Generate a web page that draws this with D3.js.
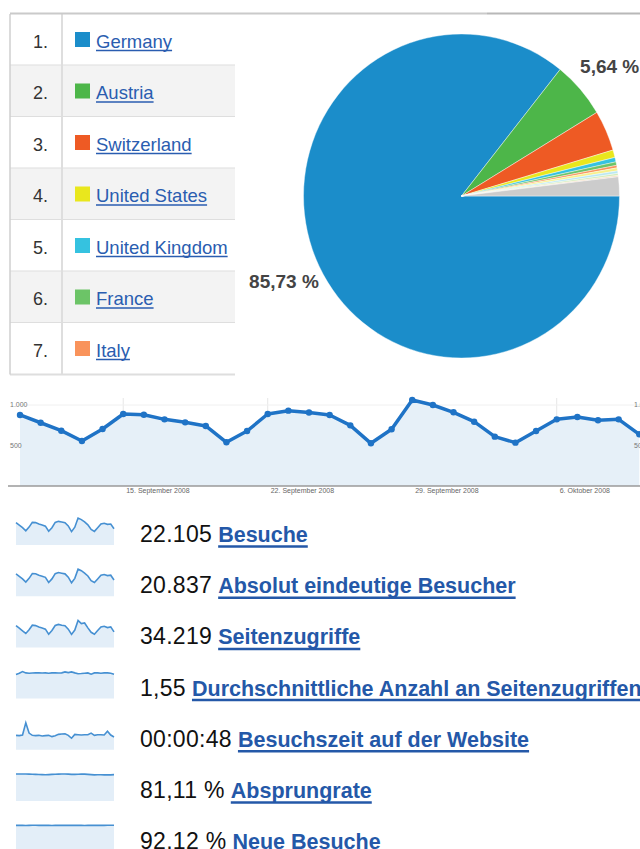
<!DOCTYPE html>
<html><head><meta charset="utf-8">
<script src="https://cdn.jsdelivr.net/npm/d3@7"></script>
<style>body{margin:0;background:#fff;overflow:hidden;} svg{display:block;font-family:"Liberation Sans",Arial,sans-serif;}</style>
</head><body><svg id="c" width="640" height="849"></svg>
<script>
// ---------- DATA ----------
const countries = ["Germany","Austria","Switzerland","United States","United Kingdom","France","Italy"];
const countryColors = ["#1b8dca","#4db649","#ee5a24","#e9e71d","#35c2e0","#6cc467","#f9935b"];
const pieShares = [85.73,5.64,4.05,0.75,0.45,0.35,0.25,0.30,0.25,0.20,0.13,1.90];
const pieColors = ["#1b8dca","#4db649","#ee5a24","#e9e71d","#35c2e0","#6cc467","#f9935b","#f7f08a","#b9e8f2","#d3ecb8","#f6d3b5","#cccccc"];
const pieLabels = ["85,73 %","5,64 %"];

const days = ["2008-09-10","2008-09-11","2008-09-12","2008-09-13","2008-09-14","2008-09-15","2008-09-16","2008-09-17","2008-09-18","2008-09-19","2008-09-20","2008-09-21","2008-09-22","2008-09-23","2008-09-24","2008-09-25","2008-09-26","2008-09-27","2008-09-28","2008-09-29","2008-09-30","2008-10-01","2008-10-02","2008-10-03","2008-10-04","2008-10-05","2008-10-06","2008-10-07","2008-10-08","2008-10-09","2008-10-10"];
const visits = [877,781,683,556,704,889,880,823,786,741,540,679,889,930,907,877,749,527,700,1062,1000,910,794,609,535,679,823,852,811,823,638];
const xTickDays = ["2008-09-15","2008-09-22","2008-09-29","2008-10-06"];
const xTickLabels = ["15. September 2008","22. September 2008","29. September 2008","6. Oktober 2008"];
const yTicks = [500,1000];
const yTickLabels = ["500","1.000"];

const metricValues = ["22.105","20.837","34.219","1,55","00:00:48","81,11 %","92,12 %"];
const metricNames = ["Besuche","Absolut eindeutige Besucher","Seitenzugriffe","Durchschnittliche Anzahl an Seitenzugriffen","Besuchszeit auf der Website","Absprungrate","Neue Besuche"];
const sparkVisits = visits;
const sparkUnique = [826,737,641,525,662,840,829,775,742,700,508,641,836,878,853,828,706,497,661,1000,944,857,749,573,506,640,777,803,764,777,602];
const sparkPageviews = [1370,1210,1040,880,1110,1400,1370,1280,1220,1150,830,1070,1380,1450,1390,1360,1150,820,1090,1700,1500,1540,1230,950,830,1060,1280,1330,1250,1290,980];
const sparkPagesPerVisit = [1.50,1.58,1.68,1.60,1.58,1.59,1.60,1.60,1.59,1.60,1.58,1.60,1.60,1.59,1.60,1.66,1.62,1.66,1.60,1.55,1.56,1.58,1.60,1.52,1.60,1.60,1.58,1.60,1.60,1.58,1.52];
const sparkTimeOnSite = [45,44,46,84,52,45,44,45,43,44,45,41,44,48,49,50,45,36,48,47,46,47,47,52,45,47,47,46,58,46,40];
const sparkBounce = [82.5,82.5,82.6,82.4,82.3,82.0,81.5,81.0,80.6,80.4,80.8,81.4,82.0,82.3,82.4,82.6,82.2,81.6,81.4,82.0,82.6,82.2,81.4,80.6,80.0,80.4,80.2,80.0,80.4,80.0,80.6];
const sparkNew = [92.0,92.0,92.0,91.8,92.0,92.4,92.2,92.0,92.0,92.4,92.0,91.8,92.0,92.0,92.0,92.2,91.9,92.0,92.0,92.2,92.0,91.8,92.0,92.0,92.0,92.0,92.2,92.0,92.6,92.4,92.6];
const sparkSeries = [sparkVisits,sparkUnique,sparkPageviews,sparkPagesPerVisit,sparkTimeOnSite,sparkBounce,sparkNew];

// ---------- DRAW ----------
const svg = d3.select("#c");
const parse = d3.timeParse("%Y-%m-%d");

// Table
const rowTop = 14, rowH = 51.5, tLeft = 10, tRight = 235;
const tbl = svg.append("g");
countries.forEach((c,i)=>{
  const y0 = rowTop + i*rowH;
  tbl.append("rect").attr("x",tLeft).attr("y",y0).attr("width",tRight-tLeft).attr("height",rowH)
    .attr("fill", i%2 ? "#f3f3f3" : "#ffffff");
  tbl.append("line").attr("x1",tLeft).attr("x2",tRight).attr("y1",y0+rowH).attr("y2",y0+rowH)
    .attr("stroke","#dedede").attr("stroke-width",2);
  const base = y0 + 33.5;
  tbl.append("text").attr("x",48).attr("y",base).attr("text-anchor","end")
    .attr("font-size",18).attr("fill","#333").text((i+1)+".");
  tbl.append("rect").attr("x",75).attr("y",y0+18).attr("width",15).attr("height",15).attr("fill",countryColors[i]);
  const t = tbl.append("text").attr("x",96).attr("y",base).attr("font-size",18.5).attr("fill","#2a5db0").text(c);
  const w = t.node().getComputedTextLength();
  tbl.append("line").attr("x1",96).attr("x2",96+w).attr("y1",base+3).attr("y2",base+3)
    .attr("stroke","#2a5db0").attr("stroke-width",1.4);
});
tbl.append("line").attr("x1",tLeft).attr("x2",tLeft).attr("y1",rowTop).attr("y2",rowTop+7*rowH).attr("stroke","#cfcfcf").attr("stroke-width",1.5);
tbl.append("line").attr("x1",62).attr("x2",62).attr("y1",rowTop).attr("y2",rowTop+7*rowH).attr("stroke","#dedede").attr("stroke-width",2);
svg.append("line").attr("x1",tLeft).attr("x2",487).attr("y1",13.5).attr("y2",13.5).attr("stroke","#cacaca").attr("stroke-width",2);
svg.append("line").attr("x1",487).attr("x2",640).attr("y1",13.5).attr("y2",13.5).attr("stroke","#b8b8b8").attr("stroke-width",2);

// Pie
const cx = 461.5, cy = 196, R = 160;
const pie = d3.pie().sort(null).value(d=>d).startAngle(Math.PI/2).endAngle(Math.PI/2+2*Math.PI);
const arcs = pie(pieShares);
const arc = d3.arc().innerRadius(0).outerRadius(R);
const pg = svg.append("g").attr("transform",`translate(${cx},${cy}) scale(${158/R},${162/R})`);
pg.selectAll("path").data(arcs).join("path").attr("d",arc).attr("fill",(d,i)=>pieColors[i])
  .attr("stroke","#ffffff").attr("stroke-width",0.6).attr("stroke-opacity",0.7);
const labelArc = d3.arc().innerRadius(197).outerRadius(197);
pieLabels.forEach((lab,i)=>{
  const [lx,ly] = labelArc.centroid(arcs[i]);
  svg.append("text").attr("x",cx+lx).attr("y",cy+ly).attr("text-anchor","middle").attr("dy","0.36em")
    .attr("font-size",19).attr("font-weight","bold").attr("fill","#444").text(lab);
});

// Main line chart
const x = d3.scaleTime().domain([parse(days[0]),parse(days[days.length-1])]).range([20,639.3]);
const y = d3.scaleLinear().domain([0,1000]).range([486,405]);
const mc = svg.append("g");
mc.selectAll("line.vg").data(xTickDays).join("line").attr("class","vg")
  .attr("x1",d=>x(parse(d))).attr("x2",d=>x(parse(d))).attr("y1",398).attr("y2",y(0))
  .attr("stroke","#e6e6e6").attr("stroke-width",1);
mc.selectAll("line.hg").data(yTicks).join("line").attr("class","hg")
  .attr("x1",20).attr("x2",640).attr("y1",d=>y(d)).attr("y2",d=>y(d)).attr("stroke","#f0f0f0");
const area = d3.area().x((d,i)=>x(parse(days[i]))).y0(y(0)).y1(d=>y(d));
mc.append("path").datum(visits).attr("d",area).attr("fill","#e6f0f8");
mc.append("line").attr("x1",8).attr("x2",640).attr("y1",y(0)).attr("y2",y(0)).attr("stroke","#9a9a9a").attr("stroke-width",1.5);
const line = d3.line().x((d,i)=>x(parse(days[i]))).y(d=>y(d));
mc.append("path").datum(visits).attr("d",line).attr("fill","none").attr("stroke","#1f73c6").attr("stroke-width",3.5).attr("stroke-linejoin","round");
mc.selectAll("circle").data(visits).join("circle").attr("cx",(d,i)=>x(parse(days[i]))).attr("cy",d=>y(d)).attr("r",3.2).attr("fill","#1f73c6");
yTicks.forEach((v,i)=>{
  mc.append("text").attr("x",10).attr("y",y(v)).attr("dy","0.35em").attr("font-size",7).attr("fill","#777").text(yTickLabels[i]);
  mc.append("text").attr("x",634).attr("y",y(v)).attr("dy","0.35em").attr("font-size",7).attr("fill","#777").text(yTickLabels[i]);
});
xTickDays.forEach((d,i)=>{
  mc.append("text").attr("x",x(parse(d))+3).attr("y",493).attr("font-size",7).attr("fill","#666").text(xTickLabels[i]);
});

// Sparklines + metrics
const sx = d3.scaleLinear().domain([0,days.length-1]).range([16,114]);
metricNames.forEach((name,i)=>{
  const bottom = 545 + i*51.2;
  const data = sparkSeries[i];
  const sy = d3.scaleLinear().domain([0,d3.max(data)]).range([bottom,bottom-27]);
  const g = svg.append("g");
  g.append("path").datum(data).attr("d",d3.area().x((d,j)=>sx(j)).y0(bottom).y1(d=>sy(d))).attr("fill","#e3eef8");
  g.append("path").datum(data).attr("d",d3.line().x((d,j)=>sx(j)).y(d=>sy(d))).attr("fill","none")
    .attr("stroke","#4690d2").attr("stroke-width",1.6);
  const base = 542 + i*51.2;
  const nt = g.append("text").attr("x",140).attr("y",base).attr("font-size",23).attr("fill","#111").attr("letter-spacing",0.3).text(metricValues[i]);
  const nw = nt.node().getComputedTextLength();
  const lx = 140 + nw + 6;
  const lt = g.append("text").attr("x",lx).attr("y",base).attr("font-size",21.5).attr("font-weight","bold").attr("fill","#2458a8").text(name);
  const lw = lt.node().getComputedTextLength();
  g.append("line").attr("x1",lx).attr("x2",lx+lw).attr("y1",base+4.5).attr("y2",base+4.5).attr("stroke","#2458a8").attr("stroke-width",2.5);
});
</script></body></html>
